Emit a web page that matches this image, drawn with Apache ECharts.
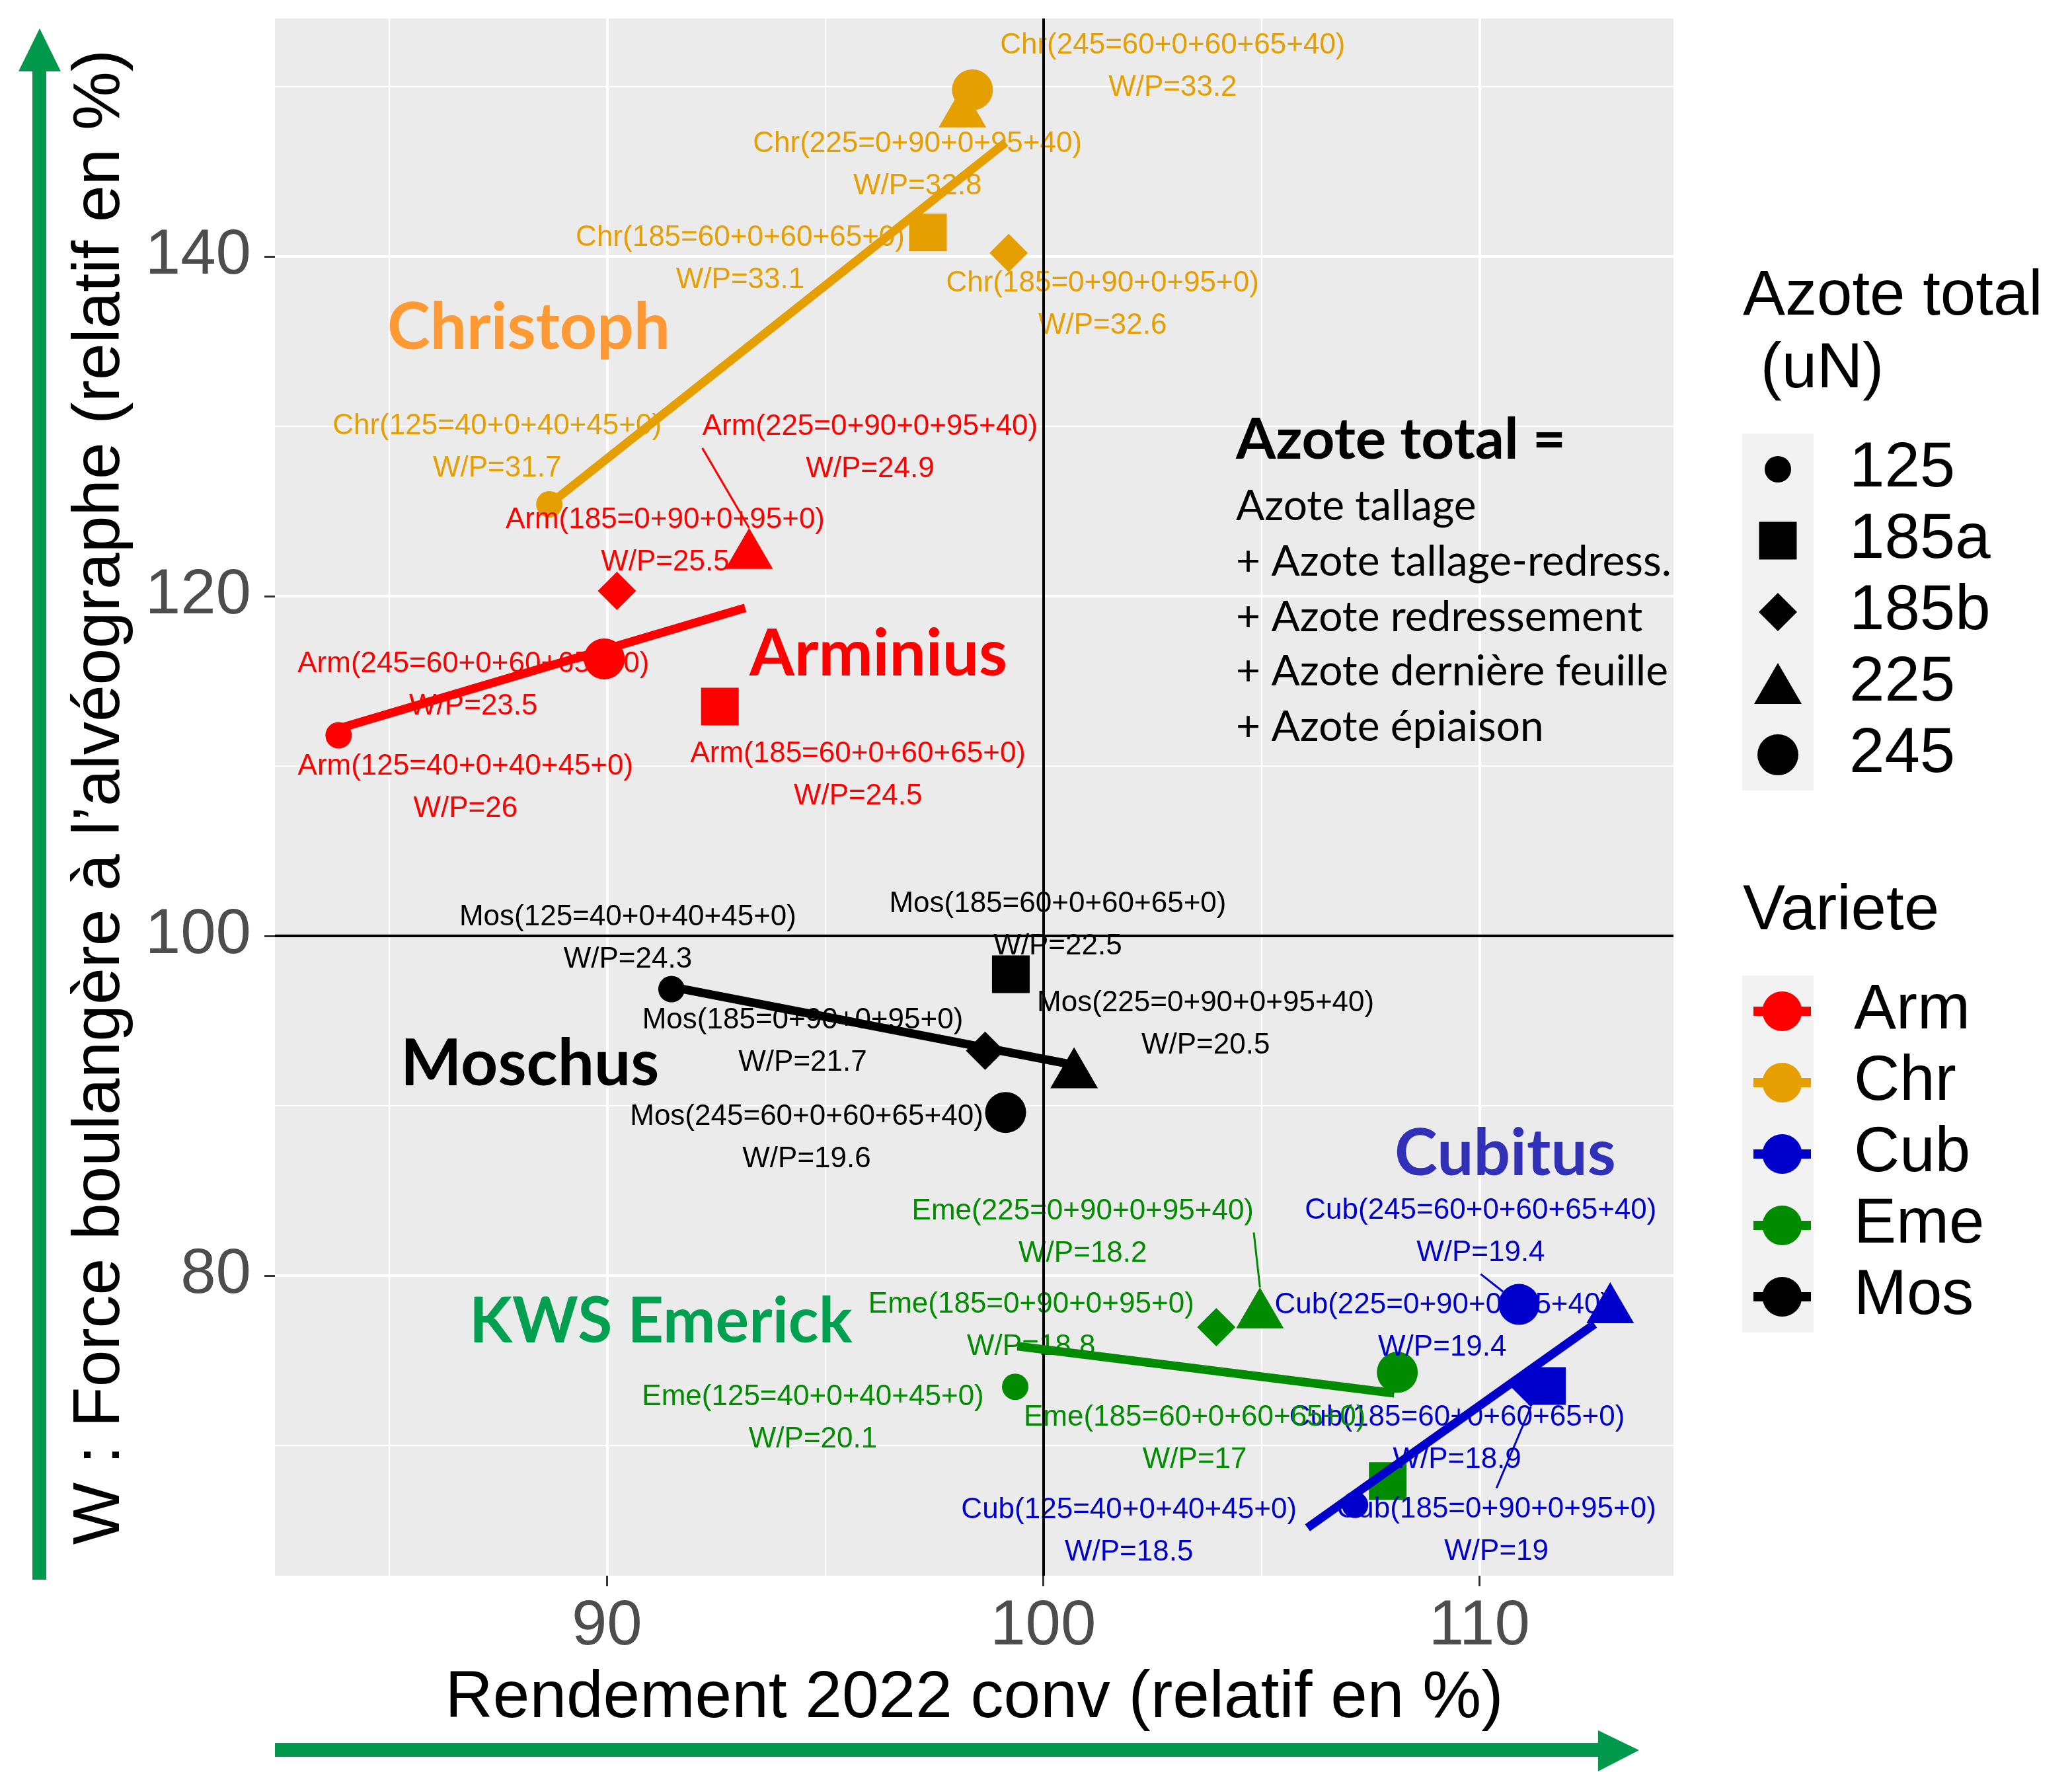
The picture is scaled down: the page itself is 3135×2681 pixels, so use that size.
<!DOCTYPE html>
<html>
<head>
<meta charset="utf-8">
<script src="https://cdn.jsdelivr.net/npm/echarts@6/dist/echarts.min.js"></script>
<style>
  html, body { margin: 0; padding: 0; background: #fff; }
  #chart { width: 3135px; height: 2681px; }
</style>
</head>
<body>
<div id="chart"></div>
<script>
// variétés et doses d'azote
const varietes = ['Arm', 'Chr', 'Cub', 'Eme', 'Mos'];
const doses = ['125', '185a', '185b', '225', '245'];
const formules = ['125=40+0+40+45+0', '185=60+0+60+65+0', '185=0+90+0+95+0', '225=0+90+0+95+40', '245=60+0+60+65+40'];

// rendement 2022 relatif (%) : une ligne par variété, une colonne par dose
const rendement = [
  [83.85, 92.59, 90.23, 93.26, 89.94],    // Arm
  [88.68, 97.36, 99.21, 98.15, 98.38],    // Chr
  [107.15, 111.55, 111.18, 113.0, 110.91], // Cub
  [99.36, 107.9, 103.97, 104.97, 108.12], // Eme
  [91.48, 99.26, 98.67, 100.71, 99.14]    // Mos
];
// W relatif (%)
const forceW = [
  [111.8, 113.5, 120.3, 122.8, 116.3],
  [125.4, 141.4, 140.2, 148.8, 149.8],
  [66.5, 73.5, 73.4, 78.4, 78.3],
  [73.45, 67.9, 76.96, 78.1, 74.3],
  [96.86, 97.74, 93.23, 92.23, 89.6]
];
// W/P (pas d'étiquette pour Eme 245)
const rapportWP = [
  [26, 24.5, 25.5, 24.9, 23.5],
  [31.7, 33.1, 32.6, 32.8, 33.2],
  [18.5, 18.9, 19, 19.4, 19.4],
  [20.1, 17, 18.8, 18.2, null],
  [24.3, 22.5, 21.7, 20.5, 19.6]
];
// droites de tendance par variété (extrémités)
const tendanceX = [[83.85, 93.17], [88.68, 99.14], [106.06, 112.64], [99.41, 108.05], [91.48, 100.6]];
const tendanceY = [[112.2, 119.3], [125.4, 146.7], [65.15, 77.14], [75.84, 73.07], [96.99, 92.45]];

const ticksX = [90, 100, 110];
const ticksY = [80, 100, 120, 140];
const grilleMajX = [90, 110], grilleMinX = [85, 95, 105];
const grilleMajY = [80, 120, 140], grilleMinY = [70, 90, 110, 130, 150];

// styles
const couleurs = ['#FF0000', '#E69F00', '#0000CD', '#008B00', '#000000'];
const symboles = ['circle', 'rect', 'diamond', 'triangle', 'circle'];
const tailles = [[40, 40], [57, 57], [58, 58], [72, 62], [62, 62]];
const police = 'Liberation Sans, Arial, sans-serif';
const vert = '#00994C';

// décalage des étiquettes en px [variété][dose]
const decalages = [
  [[192, 79], [209, 104], [73, -75], [183, -152], [-198, 40]],
  [[-79, -86], [-284, 40], [142, 78], [-68, 88], [303, -35]],
  [[-342, 40], [-136, 80], [-52, 216], [-254, 36], [-58, -110]],
  [[-306, 48], [-292, -64], [-280, -2], [-268, -114], [0, 0]],
  [[-66, -77], [71, -74], [-276, -14], [199, -66], [-301, 39]]
];
// étiquettes avec trait de rappel
const avecTrait = ['0-3', '3-3', '2-2', '2-4'];

const myChart = echarts.init(document.getElementById('chart'));

const series = [];

// grille du panneau
const ligneGrille = (axe, v, w) => ({ [axe]: v, lineStyle: { color: '#FFFFFF', width: w, type: 'solid' } });
series.push({
  type: 'line', name: 'grille', data: [], z: 1, silent: true,
  markLine: {
    z: 1, silent: true, symbol: 'none', animation: false, label: { show: false },
    data: [].concat(
      grilleMinX.map(v => ligneGrille('xAxis', v, 2)),
      grilleMinY.map(v => ligneGrille('yAxis', v, 2)),
      grilleMajX.map(v => ligneGrille('xAxis', v, 4)),
      grilleMajY.map(v => ligneGrille('yAxis', v, 4))
    )
  }
});

// points par dose
doses.forEach((d, j) => {
  series.push({
    type: 'scatter',
    name: d,
    symbol: symboles[j],
    symbolSize: tailles[j],
    z: 3,
    itemStyle: { color: '#000', opacity: 1 },
    label: {
      show: true, position: 'inside',
      formatter: p => p.data.texte,
      fontFamily: police, fontSize: 44, lineHeight: 64,
      textBorderWidth: 0
    },
    labelLayout: p => ({ dx: decalages[p.dataIndex][j][0], dy: decalages[p.dataIndex][j][1] }),
    labelLine: { show: false },
    data: varietes.map((v, i) => ({
      value: [rendement[i][j], forceW[i][j]],
      texte: rapportWP[i][j] == null ? '' : v + '(' + formules[j] + ')\nW/P=' + rapportWP[i][j],
      itemStyle: { color: couleurs[i] },
      label: { show: rapportWP[i][j] != null, color: couleurs[i] },
      labelLine: {
        show: avecTrait.indexOf(i + '-' + j) >= 0,
        lineStyle: { color: couleurs[i], width: 3 }
      }
    }))
  });
});

// lignes de référence 100 / 100
series.push({
  type: 'line', name: 'ref', data: [], z: 8, silent: true,
  markLine: {
    z: 8, silent: true, symbol: 'none', animation: false, label: { show: false },
    lineStyle: { color: '#000', width: 4, type: 'solid' },
    data: [{ xAxis: 100 }, { yAxis: 100 }]
  }
});

// droites par variété
varietes.forEach((v, i) => {
  series.push({
    type: 'line',
    name: v,
    z: 9,
    symbol: 'circle',
    showSymbol: false,
    color: couleurs[i],
    lineStyle: { color: couleurs[i], width: 13 },
    data: [[tendanceX[i][0], tendanceY[i][0]], [tendanceX[i][1], tendanceY[i][1]]]
  });
});

// légendes
const rangsDoses = [710, 818, 926, 1034, 1142];
const legendes = doses.map((d, j) => {
  const w = tailles[j][0], h = tailles[j][1];
  return {
    data: [d],
    left: 2690 - w / 2,
    top: rangsDoses[j] - 50,
    padding: 0,
    itemWidth: w,
    itemHeight: h,
    symbolKeepAspect: false,
    selectedMode: false,
    itemStyle: { color: '#000' },
    textStyle: { fontSize: 96, lineHeight: 100, color: '#000', fontFamily: police, padding: [0, 0, 0, 103 - w / 2] }
  };
});
legendes.push({
  data: varietes,
  orient: 'vertical',
  left: 2646,
  top: 1480,
  padding: 0,
  itemWidth: 87,
  itemHeight: 75,
  itemGap: 8,
  selectedMode: false,
  lineStyle: { width: 14 },
  textStyle: { fontSize: 96, lineHeight: 100, color: '#000', fontFamily: police, padding: [0, 0, 0, 60] }
});

const option = {
  animation: false,
  backgroundColor: '#FFFFFF',
  title: [
    { text: 'Azote total\n (uN)', left: 2632, top: 390, textStyle: { fontSize: 96, lineHeight: 110, fontWeight: 'normal', color: '#000', fontFamily: police } },
    { text: 'Variete', left: 2632, top: 1320, textStyle: { fontSize: 96, lineHeight: 110, fontWeight: 'normal', color: '#000', fontFamily: police } }
  ],
  legend: legendes,
  grid: {
    left: 416, top: 28, width: 2116, height: 2356,
    show: true, backgroundColor: '#EBEBEB', borderWidth: 0,
    containLabel: false, outerBoundsMode: 'none'
  },
  xAxis: {
    type: 'value', min: 82.39, max: 114.45,
    name: 'Rendement 2022 conv (relatif en %)',
    nameLocation: 'middle', nameGap: 136,
    nameTextStyle: { fontSize: 100, color: '#000', fontFamily: police },
    axisLine: { show: false, onZero: false },
    axisTick: { show: true, customValues: ticksX, length: 16, lineStyle: { color: '#333', width: 3 } },
    axisLabel: { customValues: ticksX, fontSize: 96, color: '#4D4D4D', fontFamily: police, margin: 30 },
    splitLine: { show: false }
  },
  yAxis: {
    type: 'value', min: 62.33, max: 154.0,
    name: 'W : Force boulangère à l’alvéographe (relatif en %)',
    nameLocation: 'middle', nameGap: 214, nameRotate: 90,
    nameTextStyle: { fontSize: 100, color: '#000', fontFamily: police },
    axisLine: { show: false, onZero: false },
    axisTick: { show: true, customValues: ticksY, length: 16, lineStyle: { color: '#333', width: 3 } },
    axisLabel: { customValues: ticksY, fontSize: 96, color: '#4D4D4D', fontFamily: police, margin: 36 },
    splitLine: { show: false }
  },
  graphic: [
    // fonds gris des clés de légende
    { type: 'rect', z: -1, shape: { x: 2636, y: 656, width: 108, height: 540 }, style: { fill: '#F2F2F2' } },
    { type: 'rect', z: -1, shape: { x: 2636, y: 1476, width: 108, height: 540 }, style: { fill: '#F2F2F2' } },
    // flèches vertes
    { type: 'rect', shape: { x: 49, y: 106, width: 21, height: 2284 }, style: { fill: vert } },
    { type: 'polygon', shape: { points: [[28, 108], [92, 108], [60, 43]] }, style: { fill: vert } },
    { type: 'rect', shape: { x: 416, y: 2637, width: 2004, height: 21 }, style: { fill: vert } },
    { type: 'polygon', shape: { points: [[2418, 2618], [2418, 2680], [2480, 2648]] }, style: { fill: vert } },
    // noms des variétés
    { type: 'text', z: 20, x: 586, y: 496, style: { text: 'Christoph', fill: '#FF9933', font: 'bold 98px Lato', verticalAlign: 'middle' } },
    { type: 'text', z: 20, x: 1134, y: 990, style: { text: 'Arminius', fill: '#FF0000', font: 'bold 98px Lato', verticalAlign: 'middle' } },
    { type: 'text', z: 20, x: 606, y: 1610, style: { text: 'Moschus', fill: '#000000', font: 'bold 98px Lato', verticalAlign: 'middle' } },
    { type: 'text', z: 20, x: 710, y: 2000, style: { text: 'KWS Emerick', fill: '#00A050', font: 'bold 95px Lato', verticalAlign: 'middle' } },
    { type: 'text', z: 20, x: 2110, y: 1746, style: { text: 'Cubitus', fill: '#3030B8', font: 'bold 98px Lato', verticalAlign: 'middle' } },
    // encadré azote total
    { type: 'text', z: 20, x: 1870, y: 666, style: { text: 'Azote total =', fill: '#000', font: 'bold 87px Lato', verticalAlign: 'middle' } },
    { type: 'text', z: 20, x: 1870, y: 766, style: { text: 'Azote tallage', fill: '#000', font: '64px Lato', verticalAlign: 'middle' } },
    { type: 'text', z: 20, x: 1870, y: 850, style: { text: '+ Azote tallage-redress.', fill: '#000', font: '64px Lato', verticalAlign: 'middle' } },
    { type: 'text', z: 20, x: 1870, y: 934, style: { text: '+ Azote redressement', fill: '#000', font: '64px Lato', verticalAlign: 'middle' } },
    { type: 'text', z: 20, x: 1870, y: 1016, style: { text: '+ Azote dernière feuille', fill: '#000', font: '64px Lato', verticalAlign: 'middle' } },
    { type: 'text', z: 20, x: 1870, y: 1100, style: { text: '+ Azote épiaison', fill: '#000', font: '64px Lato', verticalAlign: 'middle' } }
  ],
  series: series
};

option && myChart.setOption(option);
</script>
</body>
</html>
